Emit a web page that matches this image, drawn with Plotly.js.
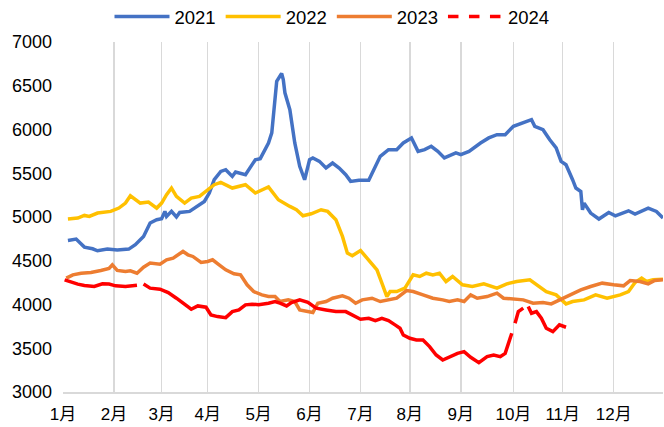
<!DOCTYPE html>
<html>
<head>
<meta charset="utf-8">
<script src="https://cdn.plot.ly/plotly-3.0.1.min.js"></script>
<style>
  html, body { margin: 0; padding: 0; background: #fff; }
  #chart { width: 664px; height: 427px; }
</style>
</head>
<body>
<div id="chart"></div>
<script>
// x = day of year (0 = 1 Jan)

const MONTH_TICKS  = [0, 31, 60, 88, 119, 150, 181, 211, 242, 274, 304, 335, 365];
const MONTH_LABELS = ["1月", "2月", "3月", "4月", "5月", "6月", "7月", "8月", "9月", "10月", "11月", "12月", ""];

const days2021 = [3,8,13,18,21,27,33,40,44,49,53,57,60,62,63,66,69,71,77,82,86,89,92,96,99,103,105,111,117,120,
  125,127,130,133,134,135,138,141,144,147,150,152,156,160,164,168,172,175,180,186,189,193,198,203,207,212,216,220,224,228,
  232,239,242,247,254,259,264,269,274,280,285,287,292,296,300,303,306,310,312,315,316,317,321,326,332,336,344,348,356,361,365];
const vals2021 = [4732,4748,4656,4637,4614,4633,4622,4633,4683,4778,4931,4969,4980,5064,5006,5064,5000,5052,5064,5121,
  5178,5274,5426,5521,5541,5464,5514,5484,5655,5667,5846,5961,6551,6640,6571,6419,6227,5846,5579,5426,
  5655,5675,5636,5560,5617,5560,5484,5407,5419,5419,5541,5693,5770,5770,5846,5904,5750,5770,5808,5750,
  5675,5732,5713,5750,5846,5904,5941,5941,6036,6082,6113,6036,5998,5885,5789,5636,5598,5426,5331,5292,
  5083,5159,5045,4977,5052,5014,5071,5033,5102,5064,4988];

const days2022 = [3,9,13,16,21,29,34,38,41,43,47,52,57,60,63,66,69,74,78,83,88,92,96,99,103,111,117,125,131,138,
  142,146,151,157,161,166,170,173,176,181,186,191,194,197,199,203,208,213,217,221,225,229,233,237,243,249,256,264,270,276,
  284,288,294,300,304,306,310,317,324,331,339,344,348,352,355,359,365];
const vals2022 = [4977,4988,5018,5006,5045,5064,5102,5159,5243,5217,5159,5171,5102,5159,5255,5331,5236,5159,5217,5236,
  5312,5369,5396,5369,5331,5369,5274,5343,5197,5121,5083,5014,5037,5083,5064,4969,4778,4587,4557,4617,
  4511,4396,4244,4091,4148,4148,4187,4339,4320,4358,4339,4358,4263,4320,4225,4206,4236,4187,4236,4263,
  4282,4225,4148,4110,4034,4007,4034,4053,4110,4072,4110,4148,4251,4301,4263,4282,4290];

const days2023 = [2,6,11,17,23,28,30,33,38,41,45,49,53,59,63,67,73,76,79,84,88,91,95,99,104,108,112,116,121,125,
  129,132,137,141,144,148,152,155,160,164,170,174,178,182,188,193,198,203,209,213,219,225,231,235,240,244,248,252,258,264,
  268,274,280,286,292,297,302,309,315,321,328,335,341,345,351,356,360,365];
const vals2023 = [4301,4339,4358,4366,4389,4412,4454,4389,4377,4385,4358,4427,4473,4461,4511,4530,4606,4568,4549,4480,
  4492,4511,4454,4396,4351,4339,4225,4148,4110,4091,4091,4034,4053,4034,3938,3927,3908,4015,4034,4072,
  4099,4072,4015,4053,4072,4034,4053,4072,4160,4148,4110,4072,4053,4034,4053,4034,4110,4072,4091,4129,
  4072,4061,4053,4015,4022,4007,4053,4110,4167,4206,4244,4225,4213,4274,4263,4236,4274,4282];

// null = break in the line (holiday gaps)
const days2024 = [1,4,9,13,19,24,28,32,38,45,47,49,53,59,64,69,74,78,82,87,90,94,99,103,107,111,115,119,125,129,
  132,136,139,144,149,154,160,166,172,177,181,186,190,194,198,202,205,207,211,215,219,223,227,231,235,240,244,248,253,258,
  262,266,269,271,273,274,275,277,280,282,283,285,288,291,294,298,302,306];
const vals2024 = [4282,4263,4233,4217,4206,4236,4233,4213,4206,4221,null,4233,4187,4175,4137,4072,3996,3946,3984,3969,
  3881,3862,3850,3919,3938,3996,4004,3996,4015,4034,4015,3984,4022,4053,4026,3958,3938,3919,3919,3869,
  3832,3843,3816,3843,3816,3767,3729,3652,3614,3595,3595,3519,3423,3366,3397,3442,3461,3397,3336,3404,
  3423,3404,3442,3557,3671,null,3786,3919,3958,null,3977,3900,3919,3843,3729,3690,3767,3740];

const COLORS = {
  y2021: "#4472C4",
  y2022: "#FFC000",
  y2023: "#ED7D31",
  y2024: "#FF0000",
  grid:  "#D9D9D9",
  text:  "#000000",
};

const FONT = "Liberation Sans, Arial, Noto Sans CJK SC, sans-serif";
const LW = 3.5;

const traces = [
  { x: days2021, y: vals2021, type: "scatter", mode: "lines", name: "2021",
    line: { color: COLORS.y2021, width: LW } },
  { x: days2022, y: vals2022, type: "scatter", mode: "lines", name: "2022",
    line: { color: COLORS.y2022, width: LW } },
  { x: days2023, y: vals2023, type: "scatter", mode: "lines", name: "2023",
    line: { color: COLORS.y2023, width: LW } },
  { x: days2024, y: vals2024, type: "scatter", mode: "lines", name: "2024",
    connectgaps: false, showlegend: false, legendgroup: "2024",
    line: { color: COLORS.y2024, width: LW } },
  // legend entry only: the 2024 series is drawn dashed in the key
  { x: [null], y: [null], type: "scatter", mode: "lines", name: "2024", legendgroup: "2024",
    line: { color: COLORS.y2024, width: LW, dash: "dash" } },
];

const layout = {
  width: 664, height: 427,
  paper_bgcolor: "#fff", plot_bgcolor: "#fff",
  font: { family: FONT, size: 17, color: COLORS.text },
  margin: { l: 63, r: 1, t: 42, b: 35 },
  showlegend: true,
  legend: {
    orientation: "h", x: 0.5, xanchor: "center", xref: "container",
    y: 0.96, yanchor: "middle", yref: "container",
    itemwidth: 55, tracegroupgap: 0, font: { size: 18.5 },
  },
  xaxis: {
    range: [0, 365], tickmode: "array", tickvals: MONTH_TICKS, ticktext: MONTH_LABELS,
    showgrid: true, gridcolor: COLORS.grid, gridwidth: 1.5,
    showline: true, linecolor: COLORS.grid, linewidth: 1.5,
    zeroline: false, ticks: "", ticklabelstandoff: 6, fixedrange: true,
  },
  yaxis: {
    range: [3000, 7000], tickmode: "array", tickvals: [3000, 3500, 4000, 4500, 5000, 5500, 6000, 6500, 7000],
    showgrid: false, zeroline: false, showline: false, ticks: "", ticklabelstandoff: 10,
    tickfont: { size: 18 },
  },
};

Plotly.newPlot("chart", traces, layout, { displayModeBar: false, staticPlot: true });
</script>
</body>
</html>
